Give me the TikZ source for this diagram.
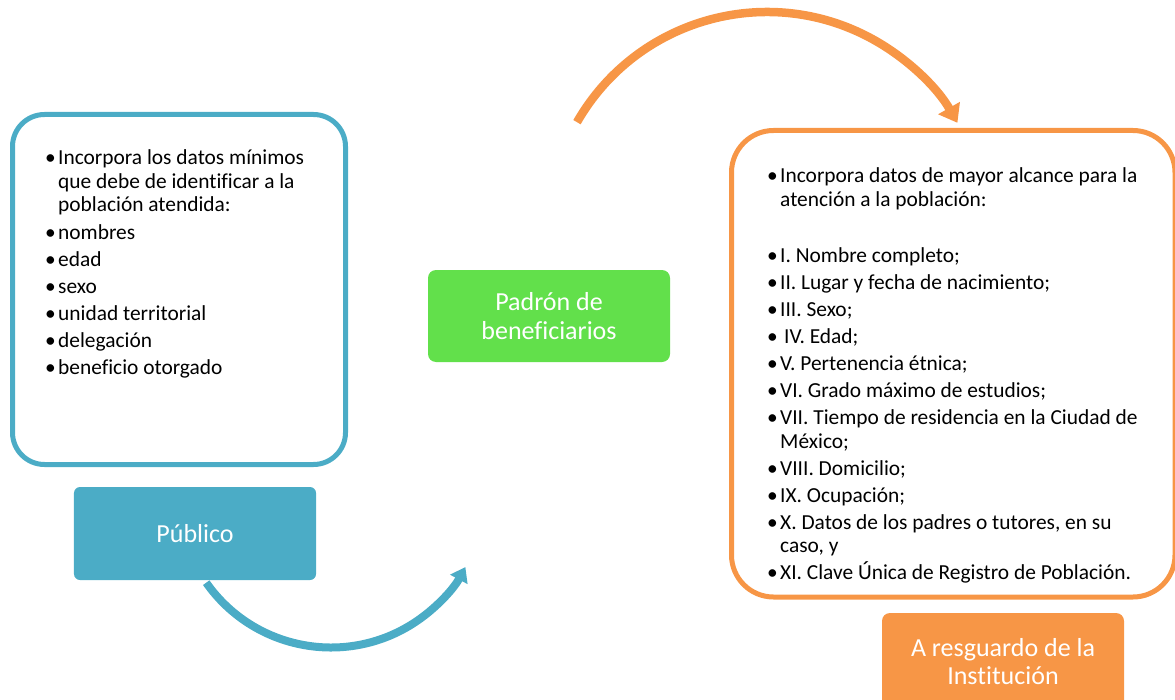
\documentclass[tikz,border=0pt]{standalone}
\usepackage{fontspec}
\setmainfont[Ligatures=NoCommon]{Carlito}
\usetikzlibrary{arrows.meta}
\definecolor{cblue}{HTML}{4BACC6}
\definecolor{cgreen}{HTML}{62E04B}
\definecolor{corange}{HTML}{F79646}
\newcommand\bitem[1]{\par\hangindent=13bp\hangafter=1\noindent\makebox[13bp][l]{\textbullet}#1}
\newcommand\listfmt{\hsize=420bp\fontsize{21.4bp}{23.5bp}\selectfont\parskip=3.5bp\parindent=0pt\raggedright}
\tikzset{
  listtext/.style={anchor=base west, inner sep=0pt},
  label box/.style={inner sep=0pt, text=white, align=center, minimum width=242bp,
    font=\fontsize{26bp}{28.5bp}\selectfont},
  outline box/.style={line width=5bp}
}
\begin{document}
\begin{tikzpicture}[x=1bp,y=-1bp]
\useasboundingbox (0,0) rectangle (1175,700);
\clip (0,0) rectangle (1175,700);
% left outline box
\draw[outline box, draw=cblue, rounded corners=32bp] (12.5,114.5) rectangle (345.5,464.5);
\node[listtext] (pubtxt) at (45,165) {\vtop{\listfmt
  \bitem{Incorpora los datos mínimos\newline que debe de identificar a la\newline población atendida:}
  \bitem{nombres}
  \bitem{edad}
  \bitem{sexo}
  \bitem{unidad territorial}
  \bitem{delegación}
  \bitem{beneficio otorgado}\par}};
% right outline box
\draw[outline box, draw=corange, rounded corners=42bp] (731.5,130.5) rectangle (1175,597);
\node[listtext] (insttxt) at (767,183) {\vtop{\listfmt
  \bitem{Incorpora datos de mayor alcance para la\newline atención a la población:}
  \par\vspace{29bp}
  \bitem{I. Nombre completo;}
  \bitem{II. Lugar y fecha de nacimiento;}
  \bitem{III. Sexo;}
  \bitem{\hspace{4bp}IV. Edad;}
  \bitem{V. Pertenencia étnica;}
  \bitem{VI. Grado máximo de estudios;}
  \bitem{VII. Tiempo de residencia en la Ciudad de\newline México;}
  \bitem{VIII. Domicilio;}
  \bitem{IX. Ocupación;}
  \bitem{X. Datos de los padres o tutores, en su\newline caso, y}
  \bitem{XI. Clave Única de Registro de Población.}\par}};
% filled label boxes
\node[label box, fill=cblue, rounded corners=6bp, minimum height=93bp] (pub) at (195,533.5) {Público};
\node[label box, fill=cgreen, rounded corners=8bp, minimum height=92bp] (pad) at (549,316) {Padrón de\\beneficiarios};
\node[label box, fill=corange, rounded corners=8bp, minimum height=97bp] (res) at (1003,661.5) {A resguardo de la\\Institución};
% arrows
\coordinate (bs) at (331,495);
\coordinate (os) at (767,231);
\draw[cblue, line width=8bp, -{Triangle[length=14bp,width=19bp]}]
  ([shift={(144.9:152.5)}]bs) arc[start angle=144.9, end angle=28.2, radius=152.5];
\draw[corange, line width=8.5bp, -{Triangle[length=17bp,width=24bp]}]
  ([shift={(209.8:219)}]os) arc[start angle=209.8, end angle=330.4, radius=219];
\end{tikzpicture}
\end{document}
